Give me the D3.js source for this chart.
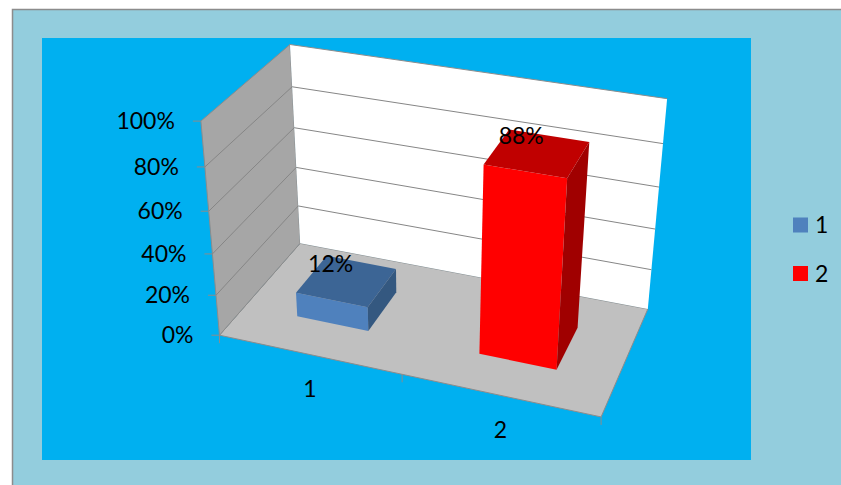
<!DOCTYPE html>
<html>
<head>
<meta charset="utf-8">
<script src="https://cdn.jsdelivr.net/npm/d3@7"></script>
<style>
  body { margin: 0; background: #ffffff; }
  text { font-family: Lato, "Open Sans", sans-serif; fill: #000; }
</style>
</head>
<body>
<svg id="chart" width="841" height="485"></svg>
<script>
// ---- data ----
const categories = ["1", "2"];
const values = [0.12, 0.88];
const valueTicks = [0, 0.2, 0.4, 0.6, 0.8, 1];
const legendLabels = ["1", "2"];

// ---- palette: front / top / side shading per series ----
const barShades = [
  { front: "#4F81BD", top: "#3C6595", side: "#345880" },
  { front: "#FF0000", top: "#C00000", side: "#A00000" }
];

// ---- camera: known screen positions of the unit plot box (u = category, v = value, w = depth) ----
const cameraAnchors = [
  { world: [0, 0, 0], x: 219.5, y: 335.5 },
  { world: [1, 0, 0], x: 601, y: 417 },
  { world: [0, 0, 1], x: 300, y: 243 },
  { world: [1, 0, 1], x: 648, y: 308 },
  { world: [0, 1, 0], x: 201, y: 121 },
  { world: [0, 1, 1], x: 290, y: 44 },
  { world: [1, 1, 1], x: 667, y: 99 },
  { world: [1, 0.8, 1], y: 143 }, { world: [1, 0.6, 1], y: 187 },
  { world: [1, 0.4, 1], y: 229 }, { world: [1, 0.2, 1], y: 271 },
  { world: [0, 0.2, 0], y: 295 }, { world: [0, 0.4, 0], y: 254 },
  { world: [0, 0.6, 0], y: 211 }, { world: [0, 0.8, 0], y: 167 },
  { world: [0, 0.2, 1], y: 206 }, { world: [0, 0.4, 1], y: 167 },
  { world: [0, 0.6, 1], y: 129 }
];

// Fit a 3x4 perspective camera (DLT, p34 = 1) by least squares.
function fitCamera(anchors) {
  const cx = 400, cy = 240, s = 300;
  const rows = [], rhs = [];
  anchors.forEach(a => {
    const [u, v, w] = a.world;
    if (a.x != null) {
      const xn = (a.x - cx) / s;
      rows.push([u, v, w, 1, 0, 0, 0, 0, -xn * u, -xn * v, -xn * w]); rhs.push(xn);
    }
    if (a.y != null) {
      const yn = (a.y - cy) / s;
      rows.push([0, 0, 0, 0, u, v, w, 1, -yn * u, -yn * v, -yn * w]); rhs.push(yn);
    }
  });
  const n = 11;
  const M = d3.range(n).map(i => d3.range(n + 1).map(j => {
    let sum = 0;
    rows.forEach((r, k) => { sum += r[i] * (j < n ? r[j] : rhs[k]); });
    return sum;
  }));
  for (let c = 0; c < n; c++) {
    let piv = c;
    for (let r = c + 1; r < n; r++) if (Math.abs(M[r][c]) > Math.abs(M[piv][c])) piv = r;
    [M[c], M[piv]] = [M[piv], M[c]];
    for (let r = 0; r < n; r++) {
      if (r === c) continue;
      const f = M[r][c] / M[c][c];
      for (let j = c; j <= n; j++) M[r][j] -= f * M[c][j];
    }
  }
  const p = M.map((row, i) => row[n] / row[i]);
  return (u, v, w) => {
    const X = p[0] * u + p[1] * v + p[2] * w + p[3];
    const Y = p[4] * u + p[5] * v + p[6] * w + p[7];
    const H = p[8] * u + p[9] * v + p[10] * w + 1;
    return [X / H * s + cx, Y / H * s + cy];
  };
}
const project = fitCamera(cameraAnchors);

// ---- scales into the unit box ----
const xBand = d3.scaleBand().domain(categories).range([0, 1]).paddingInner(0.6).paddingOuter(0.3);
const xCenter = d3.scaleBand().domain(categories).range([0, 1]);
const yVal = d3.scaleLinear().domain([0, 1]).range([0, 1]);
const zBar = d3.scaleLinear().domain([0, 1]).range([0.3, 0.7]);
const pct = d3.format(".0%");
const fontSize = 23;

const svg = d3.select("#chart");
const poly = pts => "M" + pts.map(p => project(...p).join(",")).join("L") + "Z";
const seg = (a, b) => "M" + project(...a).join(",") + "L" + project(...b).join(",");

// ---- backgrounds ----
svg.append("rect").attr("x", 12.5).attr("y", 9.5).attr("width", 900).attr("height", 600)
  .attr("fill", "#93CDDD").attr("stroke", "#8C8C8C").attr("stroke-width", 1.5);
svg.append("rect").attr("x", 42).attr("y", 38).attr("width", 709).attr("height", 422)
  .attr("fill", "#00B0F0");

const edge = "#8C8C8C";
const g = svg.append("g");

// floor
g.append("path").attr("d", poly([[0, 0, 0], [1, 0, 0], [1, 0, 1], [0, 0, 1]]))
  .attr("fill", "#C0C0C0").attr("stroke", edge).attr("stroke-width", 1);
// side wall
g.append("path").attr("d", poly([[0, 0, 0], [0, 0, 1], [0, 1, 1], [0, 1, 0]]))
  .attr("fill", "#A6A6A6").attr("stroke", edge).attr("stroke-width", 1);
// back wall
g.append("path").attr("d", poly([[0, 0, 1], [1, 0, 1], [1, 1, 1], [0, 1, 1]]))
  .attr("fill", "#FFFFFF");
g.append("path").attr("d", seg([0, 1, 1], [1, 1, 1]))
  .attr("stroke", edge).attr("stroke-width", 1).attr("fill", "none");

// gridlines on side and back walls
valueTicks.filter(t => t > 0 && t < 1).forEach(t => {
  const v = yVal(t);
  g.append("path").attr("d", seg([0, v, 0], [0, v, 1]) + seg([0, v, 1], [1, v, 1]))
    .attr("stroke", "#868686").attr("stroke-width", 1).attr("fill", "none");
});

// value axis ticks and labels
valueTicks.forEach(t => {
  const [px, py] = project(0, yVal(t), 0);
  g.append("line").attr("x1", px - 8).attr("x2", px).attr("y1", py).attr("y2", py)
    .attr("stroke", edge).attr("stroke-width", 1);
  g.append("text").attr("x", px - 26).attr("y", py).attr("dy", "0.35em")
    .attr("text-anchor", "end").attr("font-size", fontSize).text(pct(t));
});

// category axis ticks and labels
[0, 0.5, 1].forEach(u => {
  const [px, py] = project(u, 0, 0);
  g.append("line").attr("x1", px).attr("x2", px).attr("y1", py).attr("y2", py + 8)
    .attr("stroke", edge).attr("stroke-width", 1);
});
categories.forEach(c => {
  const [px, py] = project(xCenter(c) + xCenter.bandwidth() / 2, 0, 0);
  g.append("text").attr("x", px + 1).attr("y", py + 35).attr("dy", "0.35em")
    .attr("text-anchor", "middle").attr("font-size", fontSize).text(c);
});

// bars
const z0 = zBar(0), z1 = zBar(1);
categories.forEach((c, i) => {
  const x0 = xBand(c), x1 = x0 + xBand.bandwidth(), h = yVal(values[i]);
  const shade = barShades[i];
  const bar = g.append("g");
  bar.append("path").attr("d", poly([[x0, 0, z0], [x1, 0, z0], [x1, h, z0], [x0, h, z0]])).attr("fill", shade.front);
  bar.append("path").attr("d", poly([[x0, h, z0], [x1, h, z0], [x1, h, z1], [x0, h, z1]])).attr("fill", shade.top);
  bar.append("path").attr("d", poly([[x1, 0, z0], [x1, 0, z1], [x1, h, z1], [x1, h, z0]])).attr("fill", shade.side);
});

// data labels
categories.forEach((c, i) => {
  const [px, py] = project(xBand(c) + xBand.bandwidth() / 2, yVal(values[i]), 0.5);
  g.append("text").attr("x", px - 16).attr("y", py - 17).attr("dy", "0.35em")
    .attr("text-anchor", "middle").attr("font-size", fontSize).text(pct(values[i]));
});

// legend
const legend = svg.append("g");
legendLabels.forEach((lab, i) => {
  const cy = 225 + i * 48.5;
  legend.append("rect").attr("x", 793).attr("y", cy - 7.5).attr("width", 15).attr("height", 15)
    .attr("fill", barShades[i].front);
  legend.append("text").attr("x", 815).attr("y", cy).attr("dy", "0.35em")
    .attr("font-size", fontSize).text(lab);
});
</script>
</body>
</html>
